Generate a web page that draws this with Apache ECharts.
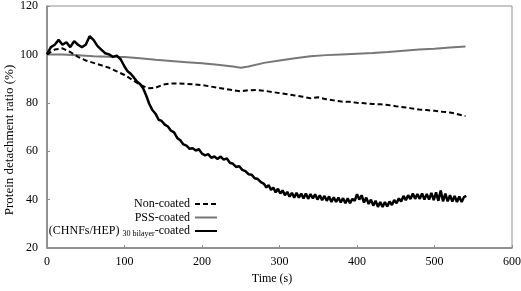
<!DOCTYPE html>
<html><head><meta charset="utf-8">
<script src="https://cdn.jsdelivr.net/npm/echarts@6/dist/echarts.min.js"></script>
<style>html,body{margin:0;padding:0;background:#fff}#c{width:521px;height:291px}</style>
</head><body><div id="c"></div>
<script>
var seriesNames = ['Non-coated', 'PSS-coated', '(CHNFs/HEP) 30 bilayer-coated'];

var nonTime = [0,10,20,30,40,50,60,70,80,90,100,110,120,130,140,150,160,170,180,190,200,210,220,230,240,250,260,270,280,290,300,310,320,330,340,350,360,370,380,390,400,410,420,430,440,450,460,470,480,490,500,510,520,530,540];
var nonValues = [100,102,102.5,101,99,97.5,96.5,95.5,94.5,93,91.5,89.5,87.5,86,86.2,87.5,88,88,87.8,87.6,87.3,86.8,86.2,85.7,85.2,84.7,85.2,85.3,85,84.5,84,83.5,83,82.5,81.9,82.3,81.5,81,80.5,80.4,80,79.8,79.5,79.4,79.1,78.6,78.2,77.7,77.2,77,76.7,76.3,76,75.3,74.5];

var pssTime = [0,20,40,60,80,100,120,140,160,180,200,220,240,250,260,280,300,320,340,360,380,400,420,440,460,480,500,520,540];
var pssValues = [100,100,99.6,99.2,99,98.9,98.4,97.8,97.3,96.8,96.3,95.7,95,94.5,95,96.5,97.5,98.4,99.2,99.7,100,100.3,100.6,101,101.5,102,102.3,102.9,103.3];

var chnfTime = [0,5,10,15,20,25,30,35,40,45,50,55,60,65,70,75,80,85,90,95,
  100,104,108,112,116,120,124,128,132,136,140,144,148,152,156,160,164,168,172,176,180,184,188,192,196,200,204,208,212,216,220,224,228,232,236,240,244,248,252,256,260,264,268,272,276,
  280,283,286,289,292,295,298,301,304,307,310,313,316,319,322,325,328,331,334,337,340,343,346,349,352,355,358,361,364,367,370,373,376,379,382,385,388,391,394,397,
  400,403,406,409,412,415,418,421,424,427,430,433,436,439,442,445,448,451,454,457,460,463,466,469,472,475,478,481,484,487,490,493,496,499,
  502,505,508,511,514,517,520,523,526,529,532,535,538,541];
var chnfValues = [100,103,104,106,104,105,103,105.5,104,103,104,107.5,106,103.5,102,100.5,100,99,99.5,98,
  95,93,92,90.5,88.8,87.8,86,83,79.5,77,75.5,73,72.5,71,70.2,68.5,67.8,65.5,64.5,62.8,62.3,61,61.2,60.3,60.8,59,58.3,58.8,57.3,57.8,56.8,57.8,56.5,57,55.2,54.8,53.5,53.8,52.3,51.8,50.5,50.3,48.8,48.5,47.2,
  46.5,45,46,44,45,43,44.5,42.5,43.8,41.8,43.2,41.2,42.8,40.8,42.8,40.8,42.5,40.5,42.5,40.3,42.3,40.5,42.2,40,41.8,39.8,41.5,39.5,41.3,39,41,39,40.8,38.8,40.6,38.5,40.5,38.5,40.3,39.5,
  42.2,40,41.8,38.8,40.8,38.2,40,37.5,39.5,37,39,37,39,37.2,39.2,37.8,39.8,38.5,40.5,39.2,41.5,39.8,41.8,40.2,42.5,40.3,42.3,40.3,42.5,40,42.3,40,42.8,39.8,
  43,39.5,43.8,39.3,42.5,39.3,41.8,39.2,41.5,39,41.3,39,41,41.5];

var xTicks = [0,100,200,300,400,500,600];
var yTicks = [20,40,60,80,100,120];

function pairs(t, v){ return t.map(function(x,i){ return [x, v[i]]; }); }

var font = 'Liberation Serif';
var chart = echarts.init(document.getElementById('c'), null, {renderer:'canvas'});
chart.setOption({
  animation: false,
  backgroundColor: '#fff',
  grid: {left: 47, right: 9, top: 6, bottom: 43, show: true, borderColor: '#909090', borderWidth: 1,
         containLabel: false, outerBoundsMode: 'none'},
  xAxis: {
    type: 'value', min: xTicks[0], max: xTicks[xTicks.length-1], interval: 100,
    name: 'Time (s)', nameLocation: 'middle', nameGap: 23,
    nameTextStyle: {fontFamily: font, fontSize: 12, color: '#000', padding:[0,15,0,0]},
    axisLine: {lineStyle: {color: '#808080', width: 1.5}},
    axisTick: {inside: true, length: 3, lineStyle: {color: '#909090'}},
    axisLabel: {fontFamily: font, fontSize: 12, color: '#000', margin: 8},
    splitLine: {show: false}
  },
  yAxis: {
    type: 'value', min: yTicks[0], max: yTicks[yTicks.length-1], interval: 20,
    name: 'Protein detachment ratio (%)', nameLocation: 'middle', nameGap: 31, nameMoveOverlap: false,
    nameTextStyle: {fontFamily: font, fontSize: 13, color: '#000', padding:[0,26,0,0]},
    axisLine: {lineStyle: {color: '#808080', width: 1.5}},
    axisTick: {inside: true, length: 3, lineStyle: {color: '#909090'}},
    axisLabel: {fontFamily: font, fontSize: 12, color: '#000', margin: 9},
    splitLine: {show: false}
  },
  legend: {
    orient: 'vertical', align: 'right', right: 298, top: 193,
    itemWidth: 22, itemHeight: 10, itemGap: 1.5,
    itemStyle: {opacity: 0},
    data: seriesNames,
    textStyle: {fontFamily: font, fontSize: 12, color: '#000',
      rich: {a: {fontFamily: font, fontSize: 12, color: '#000'},
             sub: {fontFamily: font, fontSize: 8, color: '#000', verticalAlign: 'bottom', padding:[5,0,0,0]}}},
    formatter: function(n){ return n.indexOf('CHNFs') >= 0 ? '{a|(CHNFs/HEP) }{sub|30 bilayer}{a|-coated}' : n; }
  },
  series: [
    {name: seriesNames[0], type: 'line', data: pairs(nonTime, nonValues), symbol: 'none', smooth: false,
      lineStyle: {color: '#000', width: 2, type: [5,3]}, itemStyle: {color: '#000'}, z: 3},
    {name: seriesNames[1], type: 'line', data: pairs(pssTime, pssValues), symbol: 'none',
      lineStyle: {color: '#777', width: 2}, itemStyle: {color: '#777'}, z: 2},
    {name: seriesNames[2], type: 'line', data: pairs(chnfTime, chnfValues), symbol: 'none',
      lineStyle: {color: '#000', width: 2.5}, itemStyle: {color: '#000'}, z: 4}
  ]
});
</script></body></html>
